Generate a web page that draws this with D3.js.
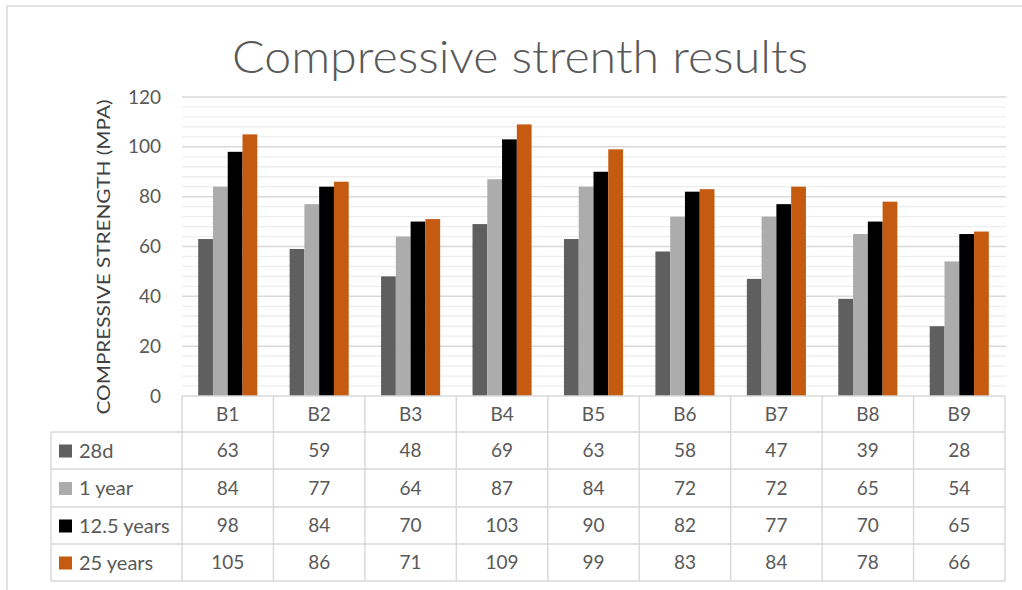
<!DOCTYPE html>
<html>
<head>
<meta charset="utf-8">
<script src="https://cdn.jsdelivr.net/npm/d3@7"></script>
<style>
  html, body { margin: 0; padding: 0; background: #fff; }
  svg { display: block; font-family: Lato, "Open Sans", sans-serif; }
</style>
</head>
<body>
<svg id="chart" width="1022" height="590"></svg>
<script>
// Specimens and curing ages
const categories = ["B1", "B2", "B3", "B4", "B5", "B6", "B7", "B8", "B9"];
const seriesNames = ["28d", "1 year", "12.5 years", "25 years"];
const values28d   = [63, 59, 48, 69, 63, 58, 47, 39, 28];
const values1y    = [84, 77, 64, 87, 84, 72, 72, 65, 54];
const values12y   = [98, 84, 70, 103, 90, 82, 77, 70, 65];
const values25y   = [105, 86, 71, 109, 99, 83, 84, 78, 66];
const seriesColors = ["#5f5f5f", "#acacac", "#000000", "#c55a11"];
const yTicks = [0, 20, 40, 60, 80, 100, 120];
const titleText = "Compressive strenth results";
const yTitle = "COMPRESSIVE STRENGTH (MPA)";

const series = seriesNames.map((name, i) => ({
  name,
  color: seriesColors[i],
  values: [values28d, values1y, values12y, values25y][i]
}));

const svg = d3.select("#chart");
const textColor = "#595959";
const lineColor = "#d9d9d9";

// Chart area outline (left and top edges)
svg.append("path")
  .attr("d", "M7,590 L7,6 L1022,6")
  .attr("fill", "none")
  .attr("stroke", lineColor)
  .attr("stroke-width", 1.5);

// Plot area
const plot = { left: 182, right: 1005, top: 97, bottom: 396 };

const x = d3.scaleBand().domain(categories).range([plot.left, plot.right]).padding(0);
const y = d3.scaleLinear().domain([0, 120]).range([plot.bottom, plot.top]);

// Bars occupy the centre of each category slot (gap width ~219%)
const groupFrac = 4 / (4 + 2.19);
const xSub = d3.scaleBand()
  .domain(seriesNames)
  .range([0, x.bandwidth() * groupFrac]);
const groupOffset = (x.bandwidth() - x.bandwidth() * groupFrac) / 2;

// Minor gridlines every 4 units
const minor = d3.range(4, 120, 4).filter(v => v % 20 !== 0);
svg.append("g").selectAll("line").data(minor).join("line")
  .attr("x1", plot.left).attr("x2", plot.right + 1)
  .attr("y1", d => y(d)).attr("y2", d => y(d))
  .attr("stroke", "#ededed").attr("stroke-width", 1.3);

// Major gridlines
svg.append("g").selectAll("line").data(yTicks.filter(v => v > 0)).join("line")
  .attr("x1", plot.left).attr("x2", plot.right + 1)
  .attr("y1", d => y(d)).attr("y2", d => y(d))
  .attr("stroke", lineColor).attr("stroke-width", 1.5);

// Y axis labels
const yAxis = d3.axisLeft(y).tickValues(yTicks).tickSize(0).tickPadding(0);
const yg = svg.append("g").attr("transform", `translate(${plot.left - 21},0)`).call(yAxis);
yg.select(".domain").remove();
yg.selectAll("text")
  .attr("fill", textColor)
  .style("font-size", "19px")
  .style("font-family", "Lato, 'Open Sans', sans-serif");

// Bars
const groups = svg.append("g").selectAll("g").data(series).join("g")
  .attr("fill", d => d.color);
groups.selectAll("rect")
  .data(s => s.values.map((v, i) => ({ name: s.name, cat: categories[i], v })))
  .join("rect")
  .attr("x", d => x(d.cat) + groupOffset + xSub(d.name))
  .attr("width", xSub.bandwidth())
  .attr("y", d => y(d.v))
  .attr("height", d => y(0) - y(d.v));

// Title
svg.append("text")
  .attr("x", 520).attr("y", 73)
  .attr("text-anchor", "middle")
  .attr("fill", textColor)
  .style("font-size", "46px")
  .style("font-weight", 300)
  .attr("textLength", 576)
  .attr("lengthAdjust", "spacingAndGlyphs")
  .text(titleText);

// Y axis title
svg.append("text")
  .attr("transform", "translate(110,257) rotate(-90)")
  .attr("text-anchor", "middle")
  .attr("fill", "#404040")
  .style("font-size", "17px")
  .attr("textLength", 315)
  .attr("lengthAdjust", "spacingAndGlyphs")
  .text(yTitle);

// Data table
const rowTop = [396, 432, 469, 507, 544];
const rowBottom = 581;
const legendLeft = 51;
const table = svg.append("g")
  .attr("stroke", lineColor).attr("stroke-width", 1.5).attr("fill", "none");

// Horizontal lines
table.append("line").attr("x1", plot.left).attr("x2", plot.right).attr("y1", rowTop[0]).attr("y2", rowTop[0]);
rowTop.slice(1).concat([rowBottom]).forEach(yy => {
  table.append("line").attr("x1", legendLeft).attr("x2", plot.right).attr("y1", yy).attr("y2", yy);
});
// Vertical lines
const colEdges = categories.map(c => x(c)).concat([plot.right]);
colEdges.forEach(xx => {
  table.append("line").attr("x1", xx).attr("x2", xx).attr("y1", rowTop[0]).attr("y2", rowBottom);
});
table.append("line").attr("x1", legendLeft).attr("x2", legendLeft).attr("y1", rowTop[1]).attr("y2", rowBottom);

const rowMid = (i) => ((i < 4 ? rowTop[i + 1] : rowBottom) + rowTop[i]) / 2;

// Category header row
svg.append("g").selectAll("text").data(categories).join("text")
  .attr("x", d => x(d) + x.bandwidth() / 2)
  .attr("y", rowMid(0))
  .attr("dy", "0.35em")
  .attr("text-anchor", "middle")
  .attr("fill", textColor)
  .style("font-size", "19px")
  .text(d => d);

// Series rows: legend key, name, values
series.forEach((s, si) => {
  const ym = rowMid(si + 1);
  svg.append("rect")
    .attr("x", 59).attr("y", ym - 6)
    .attr("width", 13).attr("height", 13)
    .attr("fill", s.color);
  svg.append("text")
    .attr("x", 79).attr("y", ym).attr("dy", "0.35em")
    .attr("fill", textColor)
    .style("font-size", "20px")
    .text(s.name);
  svg.append("g").selectAll("text").data(s.values).join("text")
    .attr("x", (d, i) => x(categories[i]) + x.bandwidth() / 2)
    .attr("y", ym).attr("dy", "0.35em")
    .attr("text-anchor", "middle")
    .attr("fill", textColor)
    .style("font-size", "19px")
    .text(d => d);
});
</script>
</body>
</html>
